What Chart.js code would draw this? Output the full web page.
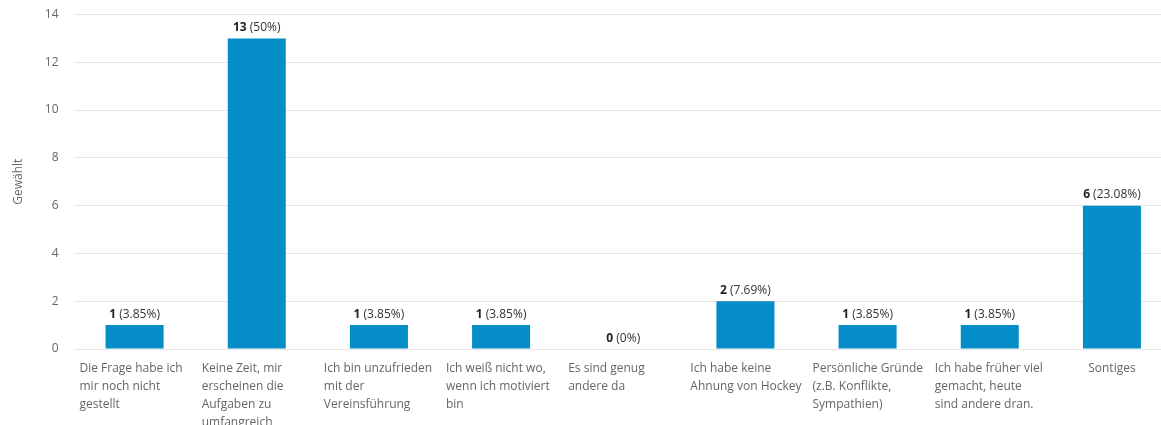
<!DOCTYPE html>
<html>
<head>
<meta charset="utf-8">
<script src="https://cdn.jsdelivr.net/npm/chart.js@4.4.1/dist/chart.umd.min.js"></script>
<style>
  html, body { margin: 0; padding: 0; background: #fff; overflow: hidden; }
  #clip { width: 1161px; height: 425px; overflow: hidden; position: relative; }
  #wrap { width: 1173px; height: 425px; position: relative; }
</style>
</head>
<body>
<div id="clip"><div id="wrap"><canvas id="c"></canvas></div></div>
<script>
const categories = [
  ["Die Frage habe ich", "mir noch nicht", "gestellt"],
  ["Keine Zeit, mir", "erscheinen die", "Aufgaben zu", "umfangreich"],
  ["Ich bin unzufrieden", "mit der", "Vereinsführung"],
  ["Ich weiß nicht wo,", "wenn ich motiviert", "bin"],
  ["Es sind genug", "andere da"],
  ["Ich habe keine", "Ahnung von Hockey"],
  ["Persönliche Gründe", "(z.B. Konflikte,", "Sympathien)"],
  ["Ich habe früher viel", "gemacht, heute", "sind andere dran."],
  ["Sontiges"]
];
const counts = [1, 13, 1, 1, 0, 2, 1, 1, 6];
const percents = ["3.85%", "50%", "3.85%", "3.85%", "0%", "7.69%", "3.85%", "3.85%", "23.08%"];
const yTitle = "Gewählt";

const FONT = '"Open Sans", sans-serif';
const FS = 12;

const valueLabels = {
  id: 'valueLabels',
  afterDatasetsDraw(chart) {
    const ctx = chart.ctx;
    const meta = chart.getDatasetMeta(0);
    ctx.save();
    ctx.textBaseline = 'alphabetic';
    meta.data.forEach((bar, i) => {
      const bold = String(counts[i]);
      const rest = ' (' + percents[i] + ')';
      ctx.font = 'bold ' + FS + 'px ' + FONT;
      const wb = ctx.measureText(bold).width;
      ctx.font = FS + 'px ' + FONT;
      const wr = ctx.measureText(rest).width;
      const x0 = bar.x - (wb + wr) / 2;
      const y = bar.y - 7.5;
      ctx.fillStyle = '#222';
      ctx.font = 'bold ' + FS + 'px ' + FONT;
      ctx.textAlign = 'left';
      ctx.fillText(bold, x0, y);
      ctx.fillStyle = '#333';
      ctx.font = FS + 'px ' + FONT;
      ctx.fillText(rest, x0 + wb, y);
    });
    ctx.restore();
  }
};

const xLabels = {
  id: 'xLabels',
  afterDraw(chart) {
    const ctx = chart.ctx;
    const xs = chart.scales.x;
    const band = (xs.right - xs.left) / categories.length;
    ctx.save();
    ctx.font = FS + 'px ' + FONT;
    ctx.fillStyle = '#666';
    ctx.textBaseline = 'middle';
    categories.forEach((lines, i) => {
      const cx = xs.getPixelForTick(i);
      lines.forEach((line, j) => {
        const y = xs.top + 20 + j * 18;
        if (lines.length > 1) {
          ctx.textAlign = 'left';
          ctx.fillText(line, cx - band / 2 + 6, y);
        } else {
          ctx.textAlign = 'center';
          ctx.fillText(line, cx, y);
        }
      });
    });
    ctx.restore();
  }
};

new Chart(document.getElementById('c'), {
  type: 'bar',
  data: {
    labels: categories.map(l => l.join(' ')),
    datasets: [{
      data: counts,
      backgroundColor: '#058dc7',
      borderWidth: 0,
      barPercentage: 0.475,
      categoryPercentage: 1.0
    }]
  },
  options: {
    responsive: true,
    maintainAspectRatio: false,
    animation: false,
    devicePixelRatio: 1,
    layout: { padding: { top: 14.5, right: 0, left: 0, bottom: 0 } },
    plugins: { legend: { display: false }, tooltip: { enabled: false } },
    scales: {
      x: {
        grid: { display: false },
        border: { display: false },
        ticks: { display: false },
        afterFit(scale) { scale.height = 76; }
      },
      y: {
        min: 0, max: 14,
        ticks: { stepSize: 2, color: '#666', font: { family: FONT, size: FS }, padding: 0 },
        grid: { color: '#e6e6e6', drawTicks: true, tickLength: 15, tickColor: 'rgba(0,0,0,0)', lineWidth: 1 },
        border: { display: false },
        title: { display: true, text: yTitle, color: '#666', font: { family: FONT, size: FS }, padding: { top: 11, bottom: 0 } },
        afterFit(scale) { scale.width = 73.5; }
      }
    }
  },
  plugins: [valueLabels, xLabels]
});
</script>
</body>
</html>
